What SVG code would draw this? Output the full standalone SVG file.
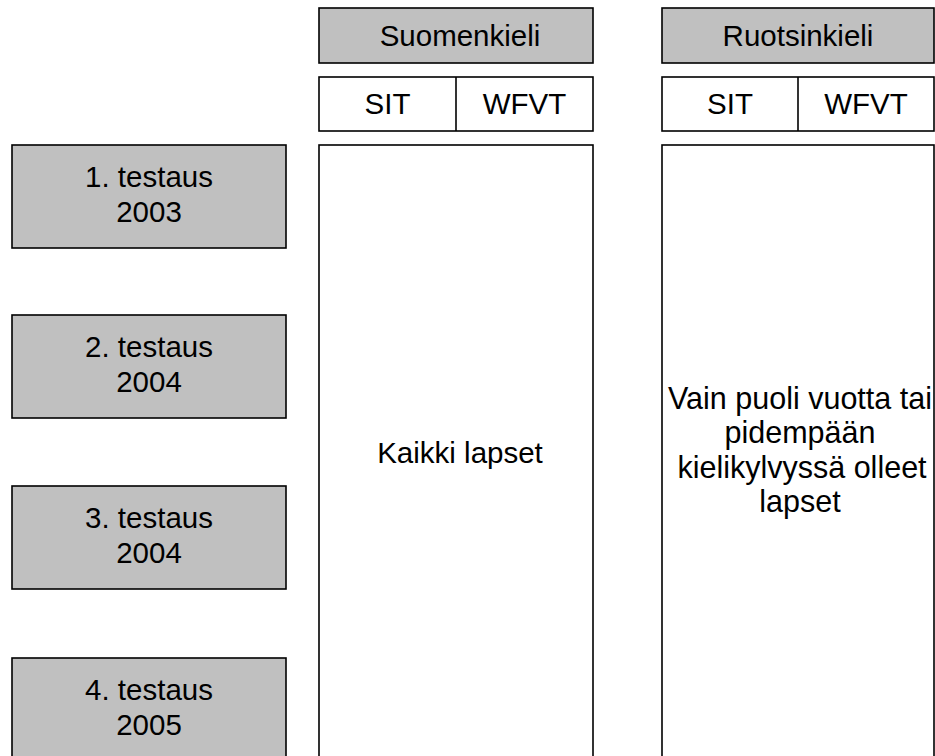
<svg xmlns="http://www.w3.org/2000/svg" width="935" height="756" viewBox="0 0 935 756">
  <style>
    .gray { fill: #c0c0c0; stroke: #000; stroke-width: 1.6; }
    .white { fill: #fff; stroke: #000; stroke-width: 1.6; }
    .line { stroke: #000; stroke-width: 1.6; }
    text { font-family: "Liberation Sans", Arial, sans-serif; font-size: 29.5px; fill: #000; text-anchor: middle; }
    .note { font-size: 30.5px; }
  </style>
  <rect width="935" height="756" fill="#fff"/>

  <!-- Language headers -->
  <g id="suomenkieli">
    <rect class="gray" x="319" y="8" width="274" height="55"/>
    <text x="460" y="46">Suomenkieli</text>
  </g>
  <g id="ruotsinkieli">
    <rect class="gray" x="662" y="8" width="272" height="55"/>
    <text x="798" y="46">Ruotsinkieli</text>
  </g>

  <!-- Test columns -->
  <g id="fi-tests">
    <rect class="white" x="319" y="77" width="274" height="54"/>
    <line class="line" x1="456" y1="77" x2="456" y2="131"/>
    <text x="387.5" y="114">SIT</text>
    <text x="524.5" y="114">WFVT</text>
  </g>
  <g id="sv-tests">
    <rect class="white" x="662" y="77" width="272" height="54"/>
    <line class="line" x1="798" y1="77" x2="798" y2="131"/>
    <text x="730" y="114">SIT</text>
    <text x="866" y="114">WFVT</text>
  </g>

  <!-- Population columns -->
  <g id="fi-children">
    <rect class="white" x="319" y="145" width="274" height="630"/>
    <text x="460" y="463">Kaikki lapset</text>
  </g>
  <g id="sv-children">
    <rect class="white" x="662" y="145" width="272" height="630"/>
    <text class="note" x="800" y="409">Vain puoli vuotta tai</text>
    <text class="note" x="800" y="443">pidempään</text>
    <text class="note" x="802" y="478">kielikylvyssä olleet</text>
    <text class="note" x="800" y="512">lapset</text>
  </g>

  <!-- Test rounds -->
  <g id="round1">
    <rect class="gray" x="12" y="145" width="274" height="103"/>
    <text x="149" y="187">1. testaus</text>
    <text x="149" y="222">2003</text>
  </g>
  <g id="round2">
    <rect class="gray" x="12" y="315" width="274" height="103"/>
    <text x="149" y="357">2. testaus</text>
    <text x="149" y="392">2004</text>
  </g>
  <g id="round3">
    <rect class="gray" x="12" y="486" width="274" height="103"/>
    <text x="149" y="528">3. testaus</text>
    <text x="149" y="563">2004</text>
  </g>
  <g id="round4">
    <rect class="gray" x="12" y="658" width="274" height="120"/>
    <text x="149" y="700">4. testaus</text>
    <text x="149" y="735">2005</text>
  </g>

  <g id="connectors"/>
</svg>
